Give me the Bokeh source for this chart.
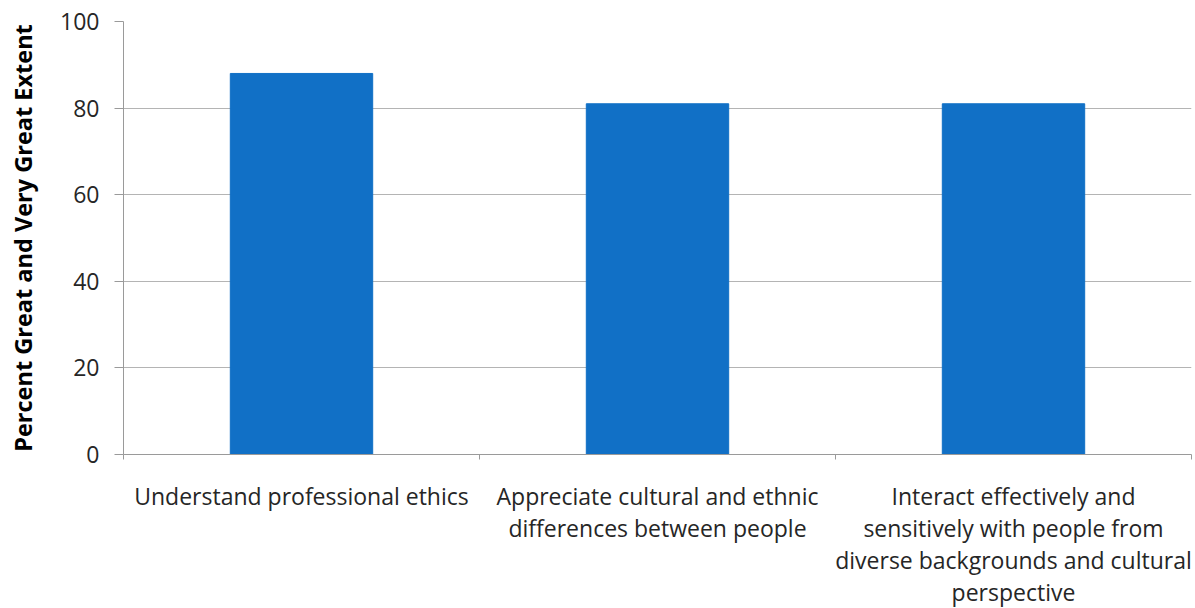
from bokeh.plotting import figure
from bokeh.models import FixedTicker, Range1d
from bokeh.embed import file_html
from bokeh.resources import INLINE

categories = [
    "Understand professional ethics",
    "Appreciate cultural and ethnic\ndifferences between people",
    "Interact effectively and\nsensitively with people from\ndiverse backgrounds and cultural\nperspective",
]
values = [88, 81, 81]
y_ticks = [0, 20, 40, 60, 80, 100]

centers = [i + 0.5 for i in range(len(categories))]

p = figure(width=1195, height=608, output_backend="svg", toolbar_location=None,
           x_range=Range1d(0, len(categories)), y_range=Range1d(0, 100),
           frame_width=1068, frame_height=433,
           min_border_left=123, min_border_top=21, min_border_right=4, min_border_bottom=154)
p.outline_line_color = None
p.background_fill_color = "white"
p.border_fill_color = "white"

p.vbar(x=centers, top=values, width=0.4, fill_color="#1170C6", line_color="#1170C6")

p.xgrid.visible = False
p.ygrid.ticker = FixedTicker(ticks=y_ticks)
p.ygrid.grid_line_color = "#b4b4b4"
p.ygrid.grid_line_width = 1

p.yaxis.ticker = FixedTicker(ticks=y_ticks)
p.yaxis.axis_label = "Percent Great and Very Great Extent"
p.yaxis.axis_label_text_font = "Open Sans"
p.yaxis.axis_label_text_font_style = "bold"
p.yaxis.axis_label_text_font_size = "23.5px"
p.yaxis.axis_label_text_color = "black"
p.yaxis.axis_label_standoff = 18
p.yaxis.major_label_text_font = "Open Sans"
p.yaxis.major_label_text_font_size = "23px"
p.yaxis.major_label_text_color = "#262626"
p.yaxis.major_label_standoff = 15
p.yaxis.major_tick_out = 9
p.yaxis.major_tick_in = 0
p.yaxis.minor_tick_out = 0
p.yaxis.minor_tick_in = 0
p.yaxis.axis_line_color = "#9a9a9a"
p.yaxis.major_tick_line_color = "#9a9a9a"

p.xaxis.ticker = FixedTicker(ticks=centers, minor_ticks=list(range(len(categories) + 1)))
p.xaxis.major_label_overrides = {c: lab for c, lab in zip(centers, categories)}
p.xaxis.major_label_text_font = "Open Sans"
p.xaxis.major_label_text_font_size = "23px"
p.xaxis.major_label_text_color = "#262626"
p.xaxis.major_label_text_line_height = 1.0
p.xaxis.major_label_standoff = 20
p.xaxis.major_tick_out = 0
p.xaxis.major_tick_in = 0
p.xaxis.minor_tick_out = 5
p.xaxis.minor_tick_in = 0
p.xaxis.minor_tick_line_color = "#9a9a9a"
p.xaxis.axis_line_color = "#9a9a9a"

open("out.html", "w").write(file_html(p, INLINE))
